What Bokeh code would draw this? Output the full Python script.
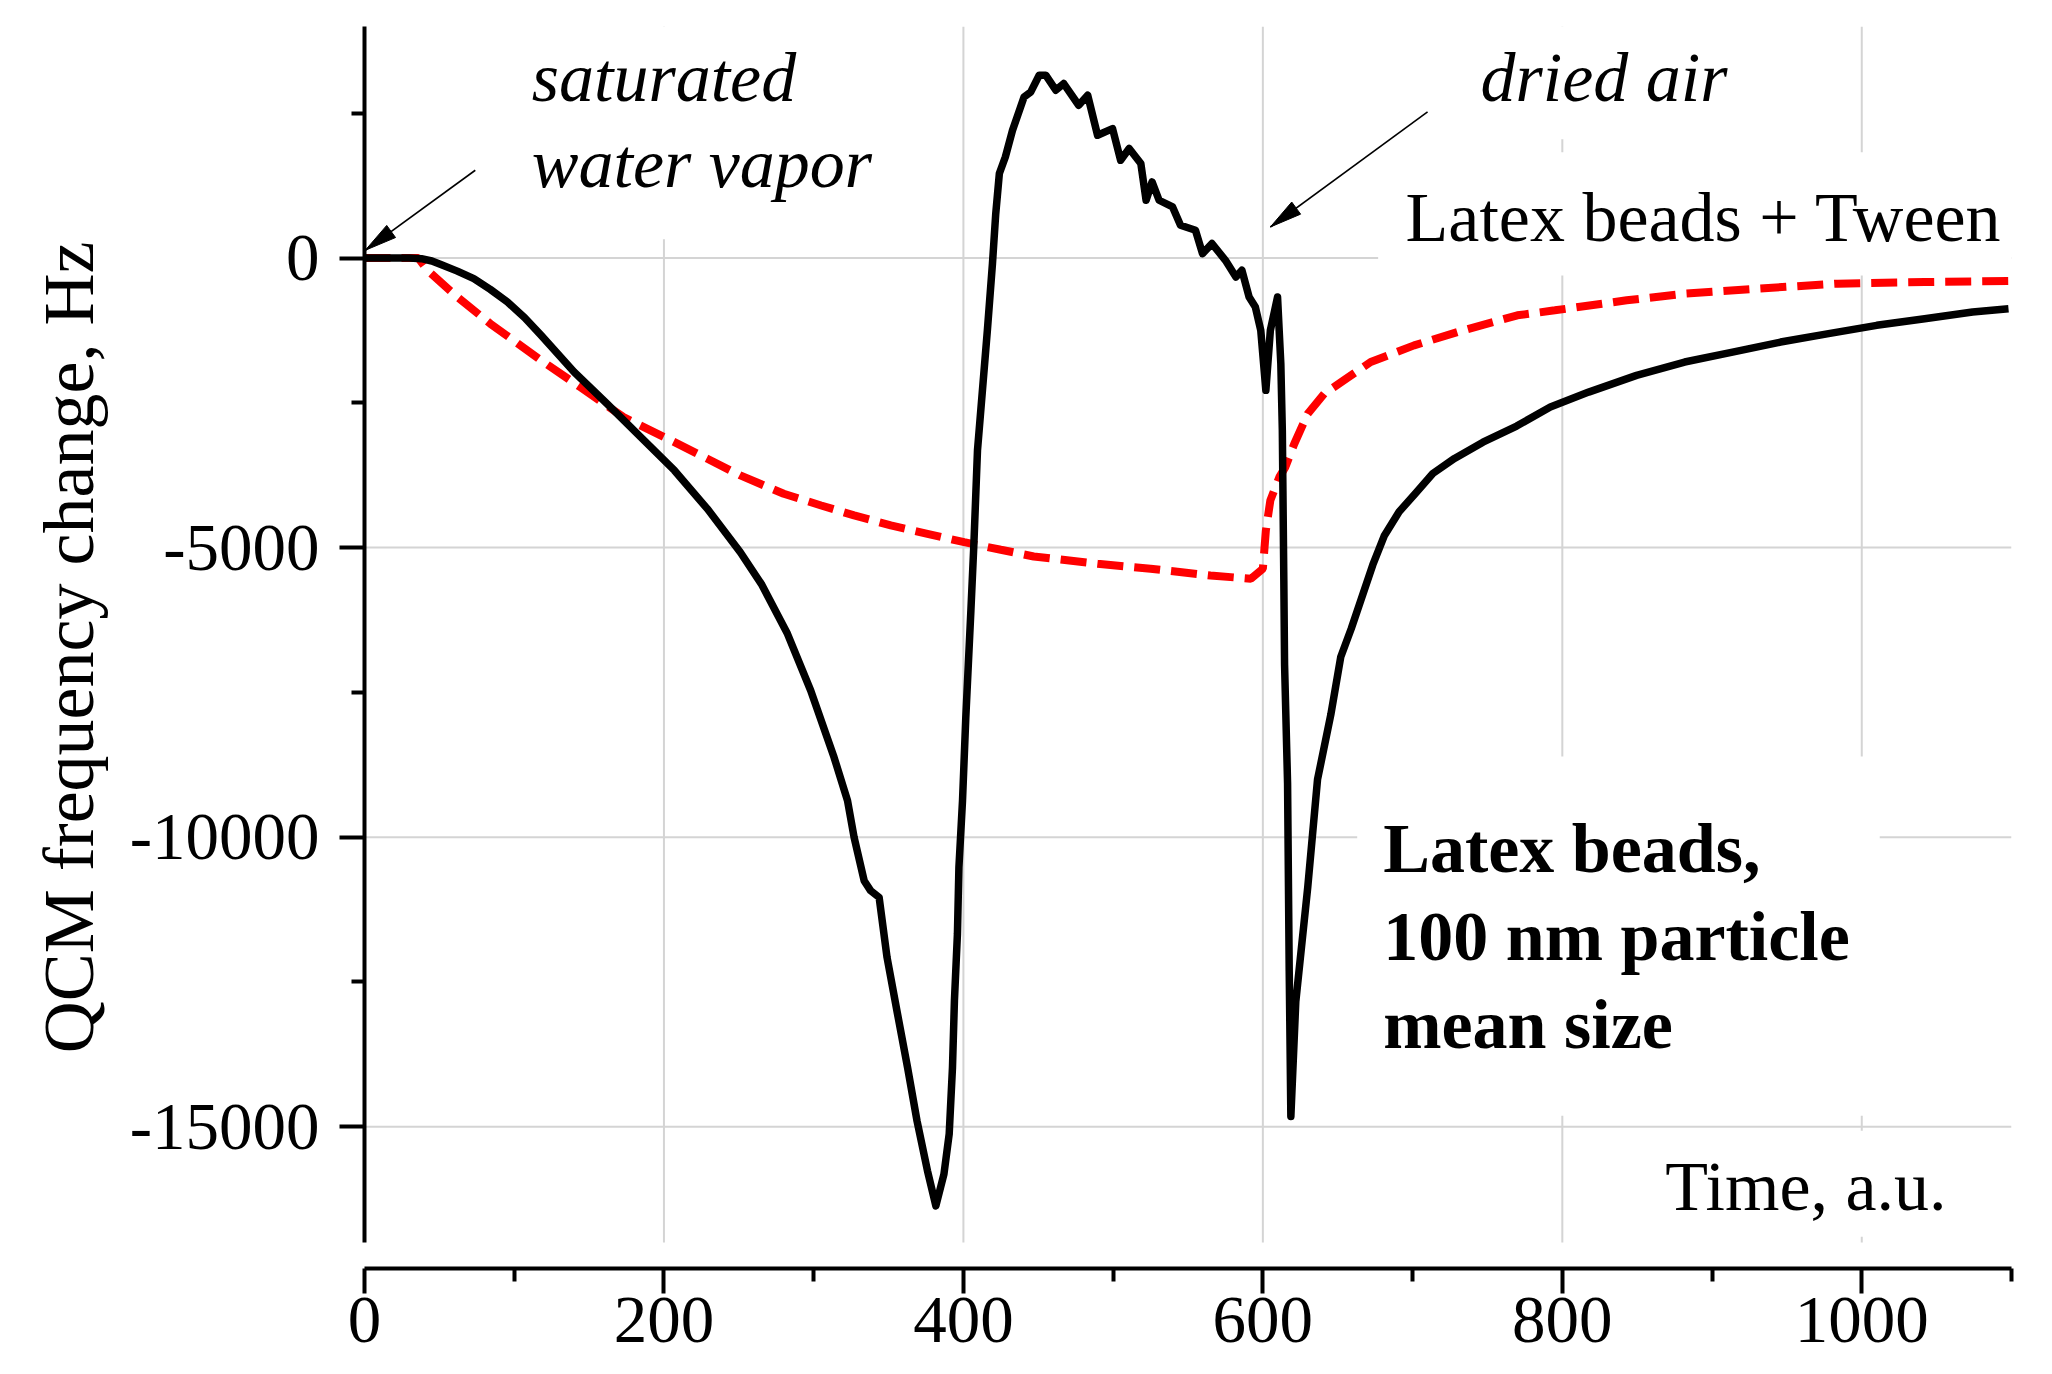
import math
from bokeh.plotting import figure
from bokeh.models import FixedTicker, Label, BoxAnnotation, Range1d
from bokeh.embed import file_html
from bokeh.resources import INLINE

# ---------------- data ----------------
black_time = [0, 20, 30, 38, 45, 51, 62, 73, 84, 95.5, 107, 118, 140, 162, 184.5,
              207, 229, 251, 265, 282.5, 298, 313.6, 322.6, 327, 333.7, 338, 343.7,
              349, 356, 362.7, 369, 376, 381.6, 387, 390.5, 392.7, 394, 396, 397,
              399.4, 401.6, 405, 407, 409.4, 410.5, 416, 419.4, 421.6, 424, 428,
              432.8, 440.5, 445, 450.6, 455, 461.7, 467, 477, 483, 489.6, 499.6,
              505, 510.7, 518.5, 522, 526, 530.7, 539.7, 545, 555, 559.7, 566, 575,
              582, 586, 590.8, 595, 598.6, 602, 605, 609.8, 612, 613, 614, 614.5,
              616.5, 617.6, 618.7, 622, 630, 636.5, 645.4, 652, 659, 673.4, 681,
              691, 702, 713.5, 728, 747, 769.5, 792, 817.6, 849.6, 881.7, 913.7,
              945.8, 977.8, 1010, 1042, 1074, 1098]
black_freq = [0, 0, 0, -10, -50, -110, -225, -354, -540, -758, -1030, -1334, -1968,
              -2515, -3091, -3667, -4330, -5080, -5625, -6489, -7468, -8621, -9369,
              -10003, -10752, -10924, -11040, -12077, -13055, -13978, -14898,
              -15763, -16368, -15820, -15129, -13978, -12825, -11673, -10521, -9369,
              -7930, -6086, -4934, -3321, -2976, -1248, -95, 769, 1460, 1747, 2208,
              2784, 2870, 3159, 3159, 2900, 3015, 2640, 2813, 2122, 2237, 1690,
              1892, 1633, 999, 1315, 999, 883, 567, 480, 78, 251, -38, -326, -211,
              -672, -845, -1248, -2284, -1248, -672, -1823, -2976, -5568, -7023,
              -9072, -12314, -14826, -12842, -10859, -9006, -7883, -6890, -6400,
              -5300, -4800, -4380, -4060, -3720, -3460, -3180, -2900, -2570, -2314,
              -2025, -1795, -1623, -1450, -1305, -1161, -1046, -931, -873]

red_time = [0, 36, 42, 62, 84, 118, 144, 173, 207, 229, 251, 280, 305, 327, 351.5,
            376, 400.5, 425, 447, 489.6, 525, 565, 592, 600, 602, 605, 611, 615,
            621, 630, 641, 654, 672, 701, 732, 770, 795, 843, 882, 930, 984, 1042,
            1098]
red_freq = [0, 0, -211, -672, -1132, -1766, -2227, -2746, -3178, -3465, -3753,
            -4070, -4272, -4444, -4617, -4761, -4906, -5037, -5153, -5279, -5365,
            -5481, -5538, -5365, -4704, -4185, -3782, -3610, -3206, -2687, -2342,
            -2112, -1795, -1507, -1260, -988, -902, -729, -613, -527, -441, -413,
            -396]

x_major = [0, 200, 400, 600, 800, 1000]
x_minor = [100, 300, 500, 700, 900, 1100]
y_major = [0, -5000, -10000, -15000]
y_minor = [2500, -2500, -7500, -12500]

# arrows (tail -> tip), data units
arrow1_tail, arrow1_tip = (74, 1517), (0.5, 135)
arrow2_tail, arrow2_tip = (710, 2526), (605, 537)

# ---------------- layout ----------------
X_START, X_END = 0, 1100
Y_AX_BOTTOM, Y_TOP = -17000, 4000
Y_START = -17450
W, H = 2036, 1358
BL, BR, BT, BB = 364, 25, 26, 90

SERIF = "Liberation Serif"

p = figure(width=W, height=H, output_backend="svg", toolbar_location=None,
           x_range=Range1d(X_START, X_END), y_range=Range1d(Y_START, Y_TOP),
           min_border_left=BL, min_border_right=BR, min_border_top=BT,
           min_border_bottom=BB)
p.outline_line_color = None
p.grid.visible = False
p.background_fill_color = "white"
p.border_fill_color = "white"

xa = p.xaxis[0]
xa.ticker = FixedTicker(ticks=x_major, minor_ticks=x_minor)
xa.bounds = (X_START, X_END)
ya = p.yaxis[0]
ya.ticker = FixedTicker(ticks=y_major, minor_ticks=y_minor)
ya.bounds = (Y_AX_BOTTOM, Y_TOP)
ya.major_label_overrides = {t: str(t) for t in y_major}
for ax in (xa, ya):
    ax.axis_line_width = 4
    ax.axis_line_color = "black"
    ax.major_tick_line_width = 4
    ax.minor_tick_line_width = 4
    ax.major_tick_line_color = "black"
    ax.minor_tick_line_color = "black"
    ax.major_tick_out = 25
    ax.major_tick_in = 0
    ax.minor_tick_out = 13
    ax.minor_tick_in = 0
    ax.major_label_text_font = SERIF
    ax.major_label_text_font_size = "67px"
    ax.major_label_text_color = "black"
xa.major_label_standoff = 4
ya.major_label_standoff = 20
ya.axis_label = "QCM frequency change, Hz"
ya.axis_label_text_font = SERIF
ya.axis_label_text_font_size = "72px"
ya.axis_label_text_font_style = "normal"
ya.axis_label_text_color = "black"
ya.axis_label_standoff = 18

# grid lines
GRID = "#d4d4d4"
gx = x_major[1:]
p.segment(x0=gx, y0=[Y_AX_BOTTOM] * len(gx), x1=gx, y1=[Y_TOP] * len(gx),
          line_color=GRID, line_width=2)
p.segment(x0=[X_START] * len(y_major), y0=y_major, x1=[X_END] * len(y_major),
          y1=y_major, line_color=GRID, line_width=2)

# curves
p.line(red_time, red_freq, line_color="#ff0000", line_width=8,
       line_dash="26 11", line_cap="butt")
p.line(black_time, black_freq, line_color="black", line_width=7.5,
       line_join="round")

# arrows
frame_w = W - BL - BR
frame_h = H - BT - 91
sx = frame_w / (X_END - X_START)
sy = frame_h / (Y_TOP - Y_START)


def add_arrow(tail, tip, length=32, width=15):
    p.segment(x0=[tail[0]], y0=[tail[1]], x1=[tip[0]], y1=[tip[1]],
              line_color="black", line_width=1.6)
    dx = (tip[0] - tail[0]) * sx
    dy = (tip[1] - tail[1]) * sy
    n = math.hypot(dx, dy)
    ux, uy = dx / n, dy / n
    px, py = -uy, ux
    xs = [tip[0],
          tip[0] + (-ux * length + px * width / 2) / sx,
          tip[0] + (-ux * length - px * width / 2) / sx]
    ys = [tip[1],
          tip[1] + (-uy * length + py * width / 2) / sy,
          tip[1] + (-uy * length - py * width / 2) / sy]
    p.patch(xs, ys, fill_color="black", line_color="black", line_width=1)


add_arrow(arrow1_tail, arrow1_tip)
add_arrow(arrow2_tail, arrow2_tip)

# white boxes behind the annotations
for (l, r, t, b) in [(91, 352, Y_TOP, 325), (726, 933, Y_TOP, 2053),
                     (677, X_END, 1828, -300), (663, 1012, -8609, -14812),
                     (853, 1086, -15071, -16903)]:
    p.add_layout(BoxAnnotation(left=l, right=r, top=t, bottom=b,
                               fill_color="white", fill_alpha=1.0,
                               line_color=None))

DY = 380  # baseline correction


def add_text(txt, x, y, style="normal"):
    p.add_layout(Label(x=x, y=y + DY, text=txt, text_font=SERIF,
                       text_font_size="70px", text_font_style=style,
                       text_color="black", text_align="left",
                       text_baseline="alphabetic"))


add_text("saturated", 111.7, 2744, "italic")
add_text("water vapor", 111.7, 1258, "italic")
add_text("dried air", 745.4, 2744, "italic")
add_text("Latex beads + Tween", 695.3, 328)
add_text("Latex beads,", 680.4, -10575, "bold")
add_text("100 nm particle", 680.4, -12099, "bold")
add_text("mean size", 680.4, -13620, "bold")
add_text("Time, a.u.", 868.7, -16407)

open("out.html", "w").write(file_html(p, INLINE))
